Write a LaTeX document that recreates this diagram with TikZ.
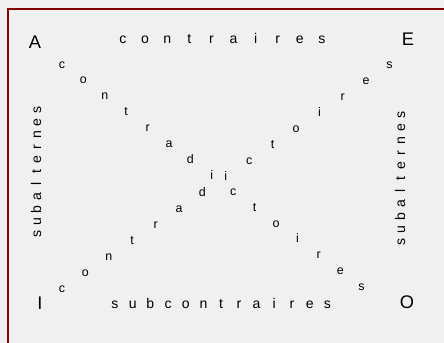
\documentclass[tikz,border=0pt]{standalone}
\usepackage{fontspec}
\setmainfont{Liberation Sans}
\usepackage{tikz}
\definecolor{SQBack}{HTML}{F0F0F0}
\definecolor{SQFrame}{HTML}{800000}

\begin{document}
\begin{tikzpicture}[x=0.03cm,y=-0.03cm,
  corner/.style={inner sep=0pt,font=\fontsize{15.6}{16}\selectfont},
  letter/.style={inner sep=0pt,text height=1ex,text depth=0pt,font=\fontsize{12}{13}\selectfont},
  diagletter/.style={letter,font=\fontsize{10.6}{12}\selectfont}]
\fill[SQBack] (0,0) rectangle (444,343);
\path[use as bounding box] (0,0) rectangle (444,343);
\draw[SQFrame,line width=0.06cm] (7.5,343) -- (7.5,9.5) -- (444,9.5);
% corners
\node[corner] (A) at (35,42) {A};
\node[corner] (E) at (408,39) {E};
\node[corner] (I) at (40,303) {I};
\node[corner] (O) at (407,302) {O};
% top and bottom
\foreach \c [count=\i from 0] in {c,o,n,t,r,a,i,r,e,s}
  \node[letter] (contr-\i) at ({123+\i*22.1},40) {\c};
\foreach \c [count=\i from 0] in {s,u,b,c,o,n,t,r,a,i,r,e,s}
  \node[letter] (subc-\i) at ({115+\i*17.7},305) {\c};
% left and right
\foreach \c [count=\i from 0] in {s,u,b,a,l,t,e,r,n,e,s}
  \node[letter,rotate=90] (subl-\i) at (38,{234-\i*12.4}) {\c};
\foreach \c [count=\i from 0] in {s,u,b,a,l,t,e,r,n,e,s}
  \node[letter,rotate=90] (subr-\i) at (402,{242-\i*12.7}) {\c};
% diagonals
\foreach \c [count=\i from 0] in {c,o,n,t,r,a,d,i,c,t,o,i,r,e,s}
  \node[diagletter] (diaa-\i) at ({62+\i*21.4},{65+\i*15.9}) {\c};
\foreach \c [count=\i from 0] in {c,o,n,t,r,a,d,i,c,t,o,i,r,e,s}
  \node[diagletter] (diai-\i) at ({62+\i*23.4},{289-\i*16.0}) {\c};
\end{tikzpicture}
\end{document}
